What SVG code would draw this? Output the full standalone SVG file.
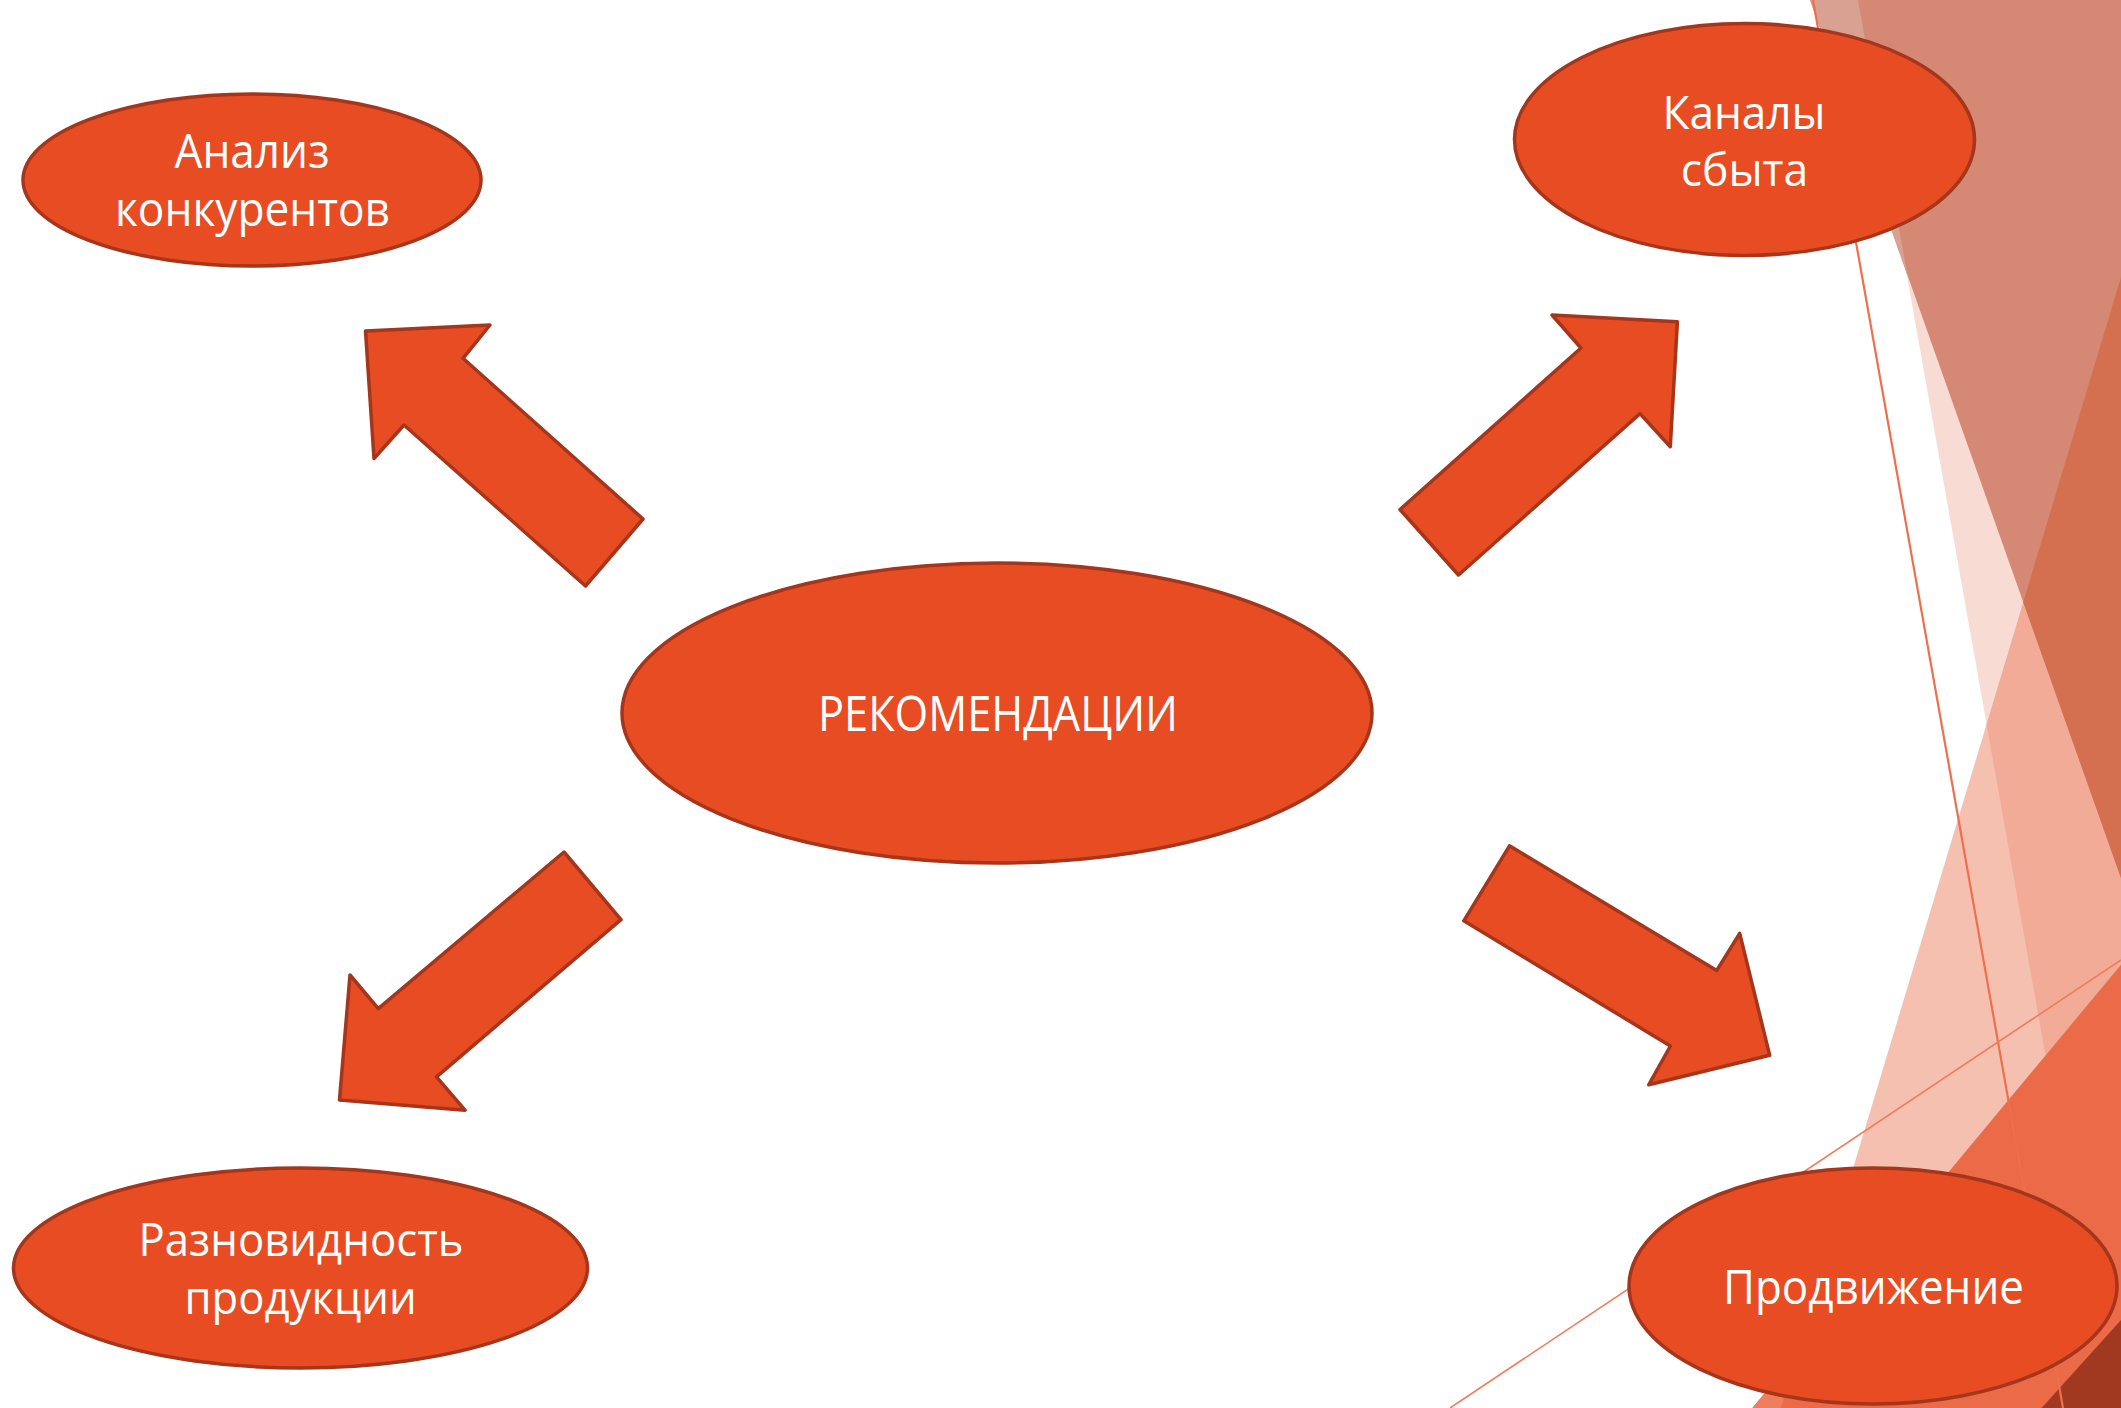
<svg xmlns="http://www.w3.org/2000/svg" width="2121" height="1408" viewBox="0 0 2121 1408">
<style>
.node{fill:#E74C23;stroke:#A5351B;stroke-width:3.5}
.arrow{fill:#E74C23;stroke:#A5351B;stroke-width:3.5;stroke-linejoin:round}
.lbl{font-family:"Open Sans","Noto Sans","Liberation Sans",sans-serif;fill:#FFFFFF;text-anchor:middle}
</style>
<rect x="0" y="0" width="2121" height="1408" fill="#FFFFFF"/>
<g id="background">
<polygon points="1858,0 2121,0 2121,1408 2108,1408" fill="#F8DCD3"/>
<polygon points="2121,277 2121,1408 1781,1408" fill="#E8623C" fill-opacity="0.4"/>
<polygon points="1810,0 2121,0 2121,878" fill="#D58873"/>
<polygon points="1810,0 1858,0 1907.3,274.8" fill="#D9A191"/>
<polygon points="2121,277 2121,878 2023.3,602.2" fill="#D4704F"/>
<polygon points="2121,964.7 2121,1408 1752.4,1408" fill="#EB6A47"/>
<polygon points="1797.3,1354 1781,1408 1752.4,1408" fill="#EF7E5E"/>
<polygon points="2041.6,1408 2121,1320 2121,1408" fill="#A0391F"/>
<line x1="1813" y1="0" x2="2063" y2="1408" stroke="#EE6F4E" stroke-width="2.2"/>
<line x1="1450" y1="1408" x2="2121" y2="960" stroke="#F07C5C" stroke-width="1.6"/>
</g>
<g id="connectors">
<polygon class="arrow" points="365.5,331 490,325 463,358.3 643,519 585.5,586 404,425 374,458.5"/>
<polygon class="arrow" points="1552,315 1677.4,321.7 1670.3,446.7 1640,413.6 1458.5,575 1400,509.5 1581,348"/>
<polygon class="arrow" points="564,852 621,919.6 436.5,1076.8 465,1110.2 339.5,1100 350,975 378.3,1008.6"/>
<polygon class="arrow" points="1509.5,845.8 1716.7,970.5 1739.7,933.3 1769.7,1055.3 1648.7,1084.8 1670.4,1046 1463.8,920.8"/>
</g>
<g id="node-analiz">
<ellipse class="node" cx="252" cy="180" rx="229" ry="86"/>
<text class="lbl" font-size="47" x="252" y="168" textLength="155" lengthAdjust="spacingAndGlyphs">Анализ</text>
<text class="lbl" font-size="47" x="252.5" y="226" textLength="275" lengthAdjust="spacingAndGlyphs">конкурентов</text>
</g>
<g id="node-kanaly">
<ellipse class="node" cx="1744.5" cy="139.5" rx="230" ry="116"/>
<text class="lbl" font-size="46" x="1744" y="129" textLength="163" lengthAdjust="spacingAndGlyphs">Каналы</text>
<text class="lbl" font-size="46" x="1744.5" y="185.5" textLength="127.5" lengthAdjust="spacingAndGlyphs">сбыта</text>
</g>
<g id="node-recommendations">
<ellipse class="node" cx="997" cy="713" rx="375" ry="150"/>
<text class="lbl" font-size="49" x="998" y="731" textLength="360" lengthAdjust="spacingAndGlyphs">РЕКОМЕНДАЦИИ</text>
</g>
<g id="node-raznovidnost">
<ellipse class="node" cx="300.5" cy="1268" rx="287" ry="100"/>
<text class="lbl" font-size="46" x="301" y="1255.7" textLength="325" lengthAdjust="spacingAndGlyphs">Разновидность</text>
<text class="lbl" font-size="46" x="300.6" y="1314" textLength="232" lengthAdjust="spacingAndGlyphs">продукции</text>
</g>
<g id="node-prodvizhenie">
<ellipse class="node" cx="1873" cy="1286" rx="244" ry="118"/>
<text class="lbl" font-size="47" x="1873.5" y="1303.7" textLength="301" lengthAdjust="spacingAndGlyphs">Продвижение</text>
</g>
</svg>
